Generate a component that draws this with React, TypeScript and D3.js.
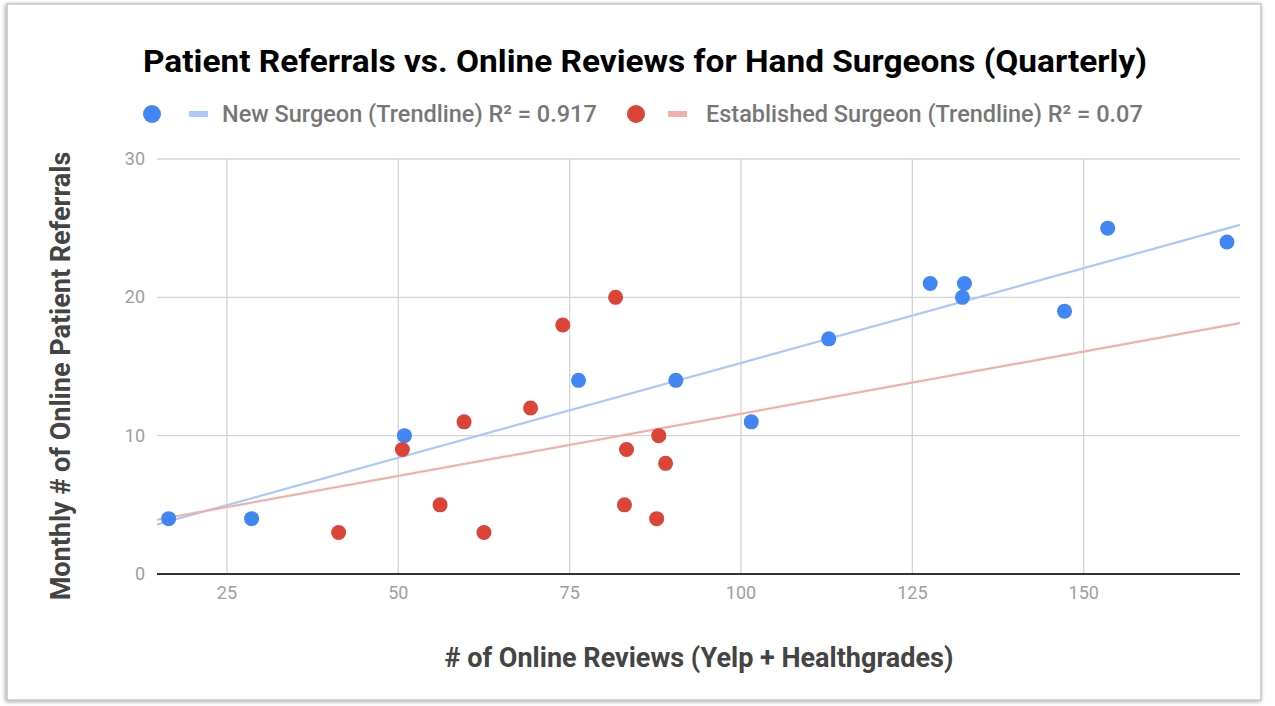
import { useMemo } from "react";
import { scaleLinear, line } from "d3";

const newReviews = [16.5, 28.6, 50.9, 76.3, 90.5, 101.5, 112.8, 127.6, 132.6, 132.3, 147.2, 153.5, 170.9];
const newReferrals = [4, 4, 10, 14, 14, 11, 17, 21, 21, 20, 19, 25, 24];
const estReviews = [41.3, 50.6, 56.1, 59.6, 62.5, 69.3, 74.0, 81.7, 83.0, 83.3, 87.7, 88.0, 89.0];
const estReferrals = [3, 9, 5, 11, 3, 12, 18, 20, 5, 9, 4, 10, 8];

const xTicks = [25, 50, 75, 100, 125, 150];
const yTicks = [0, 10, 20, 30];
const legendLabels = ["New Surgeon (Trendline) R² = 0.917", "Established Surgeon (Trendline) R² = 0.07"];

const W = 1275;
const H = 706;
const FONT = "Roboto, 'Noto Sans', sans-serif";

// plain least squares fit, same as the sheet trendline
function fit(xs: number[], ys: number[]) {
  const n = xs.length;
  const mx = xs.reduce((a, b) => a + b, 0) / n;
  const my = ys.reduce((a, b) => a + b, 0) / n;
  let sxy = 0;
  let sxx = 0;
  xs.forEach((x, i) => {
    sxy += (x - mx) * (ys[i] - my);
    sxx += (x - mx) * (x - mx);
  });
  const slope = sxy / sxx;
  return { slope, intercept: my - slope * mx };
}

export default function App() {
  const x = scaleLinear().domain([14.8, 172.8]).range([157, 1240]);
  const y = scaleLinear().domain([0, 30]).range([574, 159]);

  const series = useMemo(
    () => [
      { xs: newReviews, ys: newReferrals, color: "#4285F4", trend: "#a9c8fb" },
      { xs: estReviews, ys: estReferrals, color: "#DB4437", trend: "#f2b0aa" },
    ],
    []
  );

  const trendPath = (xs: number[], ys: number[]) => {
    const { slope, intercept } = fit(xs, ys);
    return line<number>()
      .x((d) => x(d))
      .y((d) => y(intercept + slope * d))(x.domain());
  };

  return (
    <svg width={W} height={H} style={{ position: "absolute", left: 0, top: 0, background: "#fff" }}>
      <defs>
        <filter id="shadow" x="-5%" y="-5%" width="110%" height="110%">
          <feDropShadow dx="-1" dy="1" stdDeviation="2" floodColor="#000" floodOpacity="0.35" />
        </filter>
      </defs>
      <rect x={7} y={4} width={1254} height={696} fill="#fff" stroke="#c4c4c4" strokeWidth={1.5} filter="url(#shadow)" />

      <text
        x={645}
        y={72}
        textAnchor="middle"
        fontFamily={FONT}
        fontSize={31}
        fontWeight={700}
        fill="#000"
        textLength={1004}
        lengthAdjust="spacingAndGlyphs"
      >
        Patient Referrals vs. Online Reviews for Hand Surgeons (Quarterly)
      </text>

      {/* legend */}
      <g fontFamily={FONT} fontSize={23.5} fontWeight={500} fill="#777">
        <circle cx={152} cy={114} r={9} fill="#4285F4" />
        <rect x={189} y={111} width={19} height={6} fill="#a9c8fb" />
        <text x={222} y={122}>{legendLabels[0]}</text>
        <circle cx={636} cy={114} r={9} fill="#DB4437" />
        <rect x={668} y={111} width={19} height={6} fill="#f2b0aa" />
        <text x={706} y={122}>{legendLabels[1]}</text>
      </g>

      {/* grid */}
      {yTicks.map((t) => (
        <g key={"y" + t}>
          <line x1={157} x2={1240} y1={y(t)} y2={y(t)} stroke="#d4d4d4" strokeWidth={1.3} />
          <text x={145} y={y(t) + 6} textAnchor="end" fontFamily={FONT} fontSize={18} fill="#9e9e9e">
            {t}
          </text>
        </g>
      ))}
      {xTicks.map((t) => (
        <g key={"x" + t}>
          <line x1={x(t)} x2={x(t)} y1={159} y2={573} stroke="#d4d4d4" strokeWidth={1.3} />
          <text x={x(t)} y={599} textAnchor="middle" fontFamily={FONT} fontSize={18} fill="#9e9e9e">
            {t}
          </text>
        </g>
      ))}
      <line x1={157} x2={1240} y1={y(0)} y2={y(0)} stroke="#333" strokeWidth={2} />

      {/* trendlines */}
      {series.map((s, i) => (
        <path key={"t" + i} d={trendPath(s.xs, s.ys) || ""} fill="none" stroke={s.trend} strokeWidth={2.2} />
      ))}

      {/* points */}
      {series.map((s, i) => (
        <g key={"p" + i} fill={s.color}>
          {s.xs.map((v, j) => (
            <circle key={j} cx={x(v)} cy={y(s.ys[j])} r={7.5} />
          ))}
        </g>
      ))}

      {/* axis titles */}
      <text x={699} y={667} textAnchor="middle" fontFamily={FONT} fontSize={27} fontWeight={700} fill="#444">
        # of Online Reviews (Yelp + Healthgrades)
      </text>
      <text
        transform={`translate(70, 376) rotate(-90)`}
        textAnchor="middle"
        fontFamily={FONT}
        fontSize={27}
        fontWeight={700}
        fill="#444"
      >
        Monthly # of Online Patient Referrals
      </text>
    </svg>
  );
}
